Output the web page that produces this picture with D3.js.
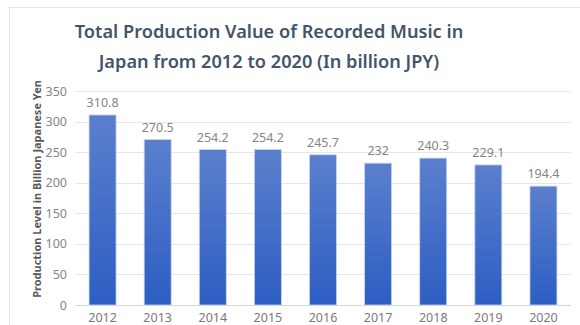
<!DOCTYPE html>
<html>
<head>
<meta charset="utf-8">
<script src="https://cdn.jsdelivr.net/npm/d3@7"></script>
<style>
  html, body { margin: 0; padding: 0; background: #fff; }
  svg { display: block; }
</style>
</head>
<body>
<svg id="chart" width="580" height="325"></svg>
<script>
// Recorded music production value in Japan, billion JPY
const years = ["2012", "2013", "2014", "2015", "2016", "2017", "2018", "2019", "2020"];
const values = [310.8, 270.5, 254.2, 254.2, 245.7, 232, 240.3, 229.1, 194.4];
const yTicks = [0, 50, 100, 150, 200, 250, 300, 350];
const titleLines = ["Total Production Value of Recorded Music in", "Japan from 2012 to 2020 (In billion JPY)"];
const yLabel = "Production Level in Billion Japanese Yen";

const svg = d3.select("#chart");
const font = "'Noto Sans', 'Open Sans', sans-serif";

// chart frame
svg.append("rect")
  .attr("x", 9.5).attr("y", 7.5)
  .attr("width", 600).attr("height", 400)
  .attr("fill", "none").attr("stroke", "#e6e6ea").attr("stroke-width", 1.2);

const plot = { left: 75, right: 571, top: 91, bottom: 305 };

const x = d3.scaleBand().domain(years).range([plot.left, plot.right]).paddingInner(0.51).paddingOuter(0.255);
const y = d3.scaleLinear().domain([0, 350]).range([plot.bottom, plot.top]);

// bar gradient
const defs = svg.append("defs");
const grad = defs.append("linearGradient").attr("id", "barGrad")
  .attr("x1", 0).attr("y1", 0).attr("x2", 0).attr("y2", 1);
grad.append("stop").attr("offset", "0%").attr("stop-color", "#5b7fcd");
grad.append("stop").attr("offset", "100%").attr("stop-color", "#2d5ec3");

// gridlines
svg.append("g")
  .selectAll("line")
  .data(yTicks)
  .join("line")
  .attr("x1", plot.left).attr("x2", plot.right)
  .attr("y1", d => Math.round(y(d)) + 0.5).attr("y2", d => Math.round(y(d)) + 0.5)
  .attr("stroke", d => d === 0 ? "#d4d8e2" : "#e3e6ee").attr("stroke-width", 1);

// y tick labels
const yAxis = d3.axisLeft(y).tickValues(yTicks).tickSize(0).tickPadding(0);
const gy = svg.append("g").attr("transform", `translate(${plot.left - 8},0)`).call(yAxis);
gy.select(".domain").remove();
gy.selectAll("text")
  .attr("fill", "#858585").attr("font-size", 12.5).attr("font-family", font);

// x tick labels
const xAxis = d3.axisBottom(x).tickSize(0).tickPadding(0);
const gx = svg.append("g").attr("transform", `translate(0,${plot.bottom + 8})`).call(xAxis);
gx.select(".domain").remove();
gx.selectAll("text")
  .attr("fill", "#7a7a7a").attr("font-size", 12.5).attr("font-family", font);

// bars
svg.append("g")
  .selectAll("rect")
  .data(values)
  .join("rect")
  .attr("x", (d, i) => x(years[i]))
  .attr("y", d => y(d))
  .attr("width", x.bandwidth())
  .attr("height", d => y(0) - y(d))
  .attr("fill", "url(#barGrad)")
  .attr("stroke", "#c9d4ee").attr("stroke-width", 0.8);

// value labels
svg.append("g")
  .selectAll("text")
  .data(values)
  .join("text")
  .attr("x", (d, i) => x(years[i]) + x.bandwidth() / 2)
  .attr("y", d => y(d) - 8)
  .attr("text-anchor", "middle")
  .attr("fill", "#858585").attr("font-size", 12.5).attr("font-family", font)
  .text(d => d);

// title
svg.append("g")
  .selectAll("text")
  .data(titleLines)
  .join("text")
  .attr("x", 269)
  .attr("y", (d, i) => 38 + i * 30)
  .attr("text-anchor", "middle")
  .attr("fill", "#44546a").attr("font-size", 18.2).attr("font-weight", 600)
  .attr("font-family", font)
  .text(d => d);

// y axis title
svg.append("text")
  .attr("transform", `translate(41,${(plot.top + plot.bottom) / 2 - 9}) rotate(-90)`)
  .attr("text-anchor", "middle")
  .attr("fill", "#595959").attr("font-size", 11).attr("font-weight", 700)
  .attr("font-family", font)
  .text(yLabel);
</script>
</body>
</html>
